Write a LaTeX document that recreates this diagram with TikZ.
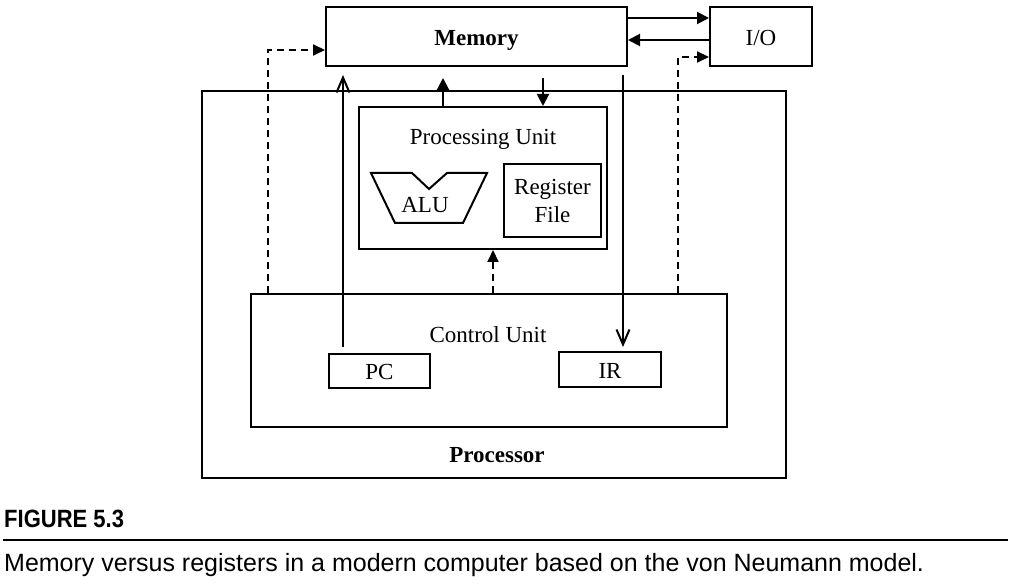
\documentclass[tikz,border=0pt]{standalone}
\usepackage{fontspec}
\setmainfont{Liberation Serif}
\newfontfamily\capfont{Liberation Sans}
\newfontfamily\capbold[FakeStretch=0.88]{Liberation Sans Bold}
\usetikzlibrary{arrows.meta,calc}
\tikzset{
  box/.style={draw, line width=2pt, rectangle, inner sep=0pt},
  lbl/.style={font=\fontsize{23}{28}\selectfont, inner sep=0pt, anchor=base},
  arr/.style={line width=2pt, -{Triangle[length=12pt,width=12pt]}},
  openarr/.style={line width=2pt, -{Straight Barb[length=15pt,width=13pt,line width=2pt]}},
  dasharr/.style={line width=2pt, dash pattern=on 7pt off 5pt, -{Triangle[length=12pt,width=11pt]}}
}
\begin{document}
\begin{tikzpicture}[x=1pt,y=-1pt]
\useasboundingbox (0,0) rectangle (1014,585);
% boxes
\node[box, minimum width=301pt, minimum height=59pt] (mem) at (476.5,36.5) {};
\node[lbl, font=\fontsize{23}{28}\selectfont\bfseries] (memlbl) at (476.5,46) {Memory};
\node[box, minimum width=102pt, minimum height=59pt] (io) at (761,36.5) {};
\node[lbl] (iolbl) at (761,46) {I/O};
\node[box, minimum width=584pt, minimum height=387pt] (proc) at (494,284.5) {};
\node[lbl, font=\fontsize{23}{28}\selectfont\bfseries] (proclbl) at (497,462) {Processor};
\node[box, minimum width=248pt, minimum height=142pt] (pu) at (483,178) {};
\node[lbl] (pulbl) at (483,145) {Processing Unit};
\node[box, minimum width=97pt, minimum height=73pt] (rf) at (552.5,200.5) {};
\node[lbl] (rflbl1) at (552.5,195) {Register};
\node[lbl] (rflbl2) at (552.5,223) {File};
% ALU
\draw[line width=2pt, line join=miter] (371,173) -- (412,173) -- (429,189) -- (447,173) -- (487,173) -- (463,223) -- (395,223) -- cycle;
\node[lbl] (alulbl) at (425,213) {ALU};
\node[box, minimum width=476pt, minimum height=133pt] (cu) at (489,360.5) {};
\node[lbl] (culbl) at (488,342) {Control Unit};
\node[box, minimum width=101pt, minimum height=34pt] (pc) at (379.5,371) {};
\node[lbl] (pclbl) at (379.5,379) {PC};
\node[box, minimum width=102pt, minimum height=35pt] (ir) at (610,369.5) {};
\node[lbl] (irlbl) at (610,378) {IR};
% connectors
\draw[arr] ($(mem.north east)+(0,12)$) coordinate (m1) -- (m1 -| io.west);
\draw[arr] ($(io.north west)+(0,34)$) coordinate (i1) -- (i1 -| mem.east);
\coordinate (a1) at (443,78);
\draw[arr] (a1 |- pu.north) -- (a1);
\coordinate (a2) at (543,78);
\draw[arr] (a2) -- (a2 |- pu.north);
\coordinate (a3) at (623,75);
\draw[openarr, shorten >=4pt] (a3) -- (a3 |- ir.north);
\coordinate (a4) at (343,75);
\draw[openarr, shorten <=6pt] (a4 |- pc.north) -- (a4);
\draw[dasharr] ($(cu.north)+(4,0)$) coordinate (d1) -- (d1 |- pu.south);
\draw[dasharr] ($(cu.north west)+(18,0)$) |- ($(mem.north west)+(0,44)$);
\draw[dasharr] ($(cu.north east)+(-50,0)$) |- ($(io.north west)+(0,51)$);
% caption
\node[anchor=base west, inner sep=0pt, font=\capbold\fontsize{25}{30}\selectfont] (fig) at (4,527) {FIGURE 5.3};
\coordinate (r1) at (3,540);
\coordinate (r2) at (1008,540);
\draw[line width=1.8pt] (r1) -- (r2);
\node[anchor=base west, inner sep=0pt, font=\capfont\fontsize{25}{30}\selectfont] (cap) at (4,571) {Memory versus registers in a modern computer based on the von Neumann model.};
\end{tikzpicture}
\end{document}
